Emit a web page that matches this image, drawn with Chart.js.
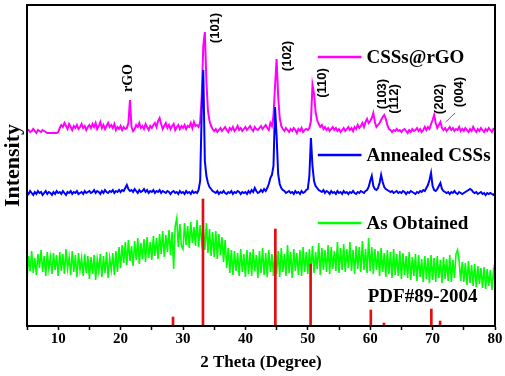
<!DOCTYPE html>
<html>
<head>
<meta charset="utf-8">
<script src="https://cdn.jsdelivr.net/npm/chart.js@4"></script>
<style>
  html, body { margin: 0; padding: 0; background: #fff; }
  #wrap { width: 505px; height: 376px; }
</style>
</head>
<body>
<div id="wrap"><canvas id="xrd"></canvas></div>
<script>
// scan settings (2 theta, degree)
const scanStart = 5;
const scanStep = 0.25;

// CSSs@rGO (a.u.)
const rgoCounts = [
  195,196,194,195,197,195,193,196,195,194,196,195,194,193,193,193,193,193,193,193,
  194,198,201,199,203,200,197,202,199,196,200,198,201,197,199,202,198,200,196,199,
  201,198,202,199,203,197,200,204,198,201,197,200,203,199,201,198,202,196,199,197,
  200,196,199,197,198,203,226,199,195,197,201,199,203,198,200,197,202,199,196,200,
  198,201,203,199,205,208,202,197,200,203,198,201,197,200,202,196,199,201,197,200,
  198,201,197,200,199,203,198,204,200,201,199,204,230,280,294,245,215,205,200,197,
  195,197,194,196,198,195,197,199,196,194,198,196,199,195,197,200,196,198,195,197,
  199,196,198,200,197,195,199,197,196,198,200,197,199,201,198,196,203,200,210,240,
  267,230,208,200,197,195,198,196,194,197,195,198,196,193,197,195,198,194,196,197,
  196,198,205,241,232,214,206,202,199,201,197,199,196,198,195,197,199,196,198,195,
  197,194,196,198,195,197,199,196,198,195,199,197,201,198,200,203,199,204,207,203,
  205,208,213,204,199,201,203,206,209,211,207,201,197,196,194,196,195,197,195,196,
  194,196,197,195,193,196,194,197,195,196,198,195,197,194,196,199,196,199,197,202,
  206,211,203,198,201,204,198,196,198,195,197,199,196,198,195,197,196,199,195,197,
  195,198,196,194,197,195,199,196,194,197,195,198,196,194,197,195,198,196,194,197,196
];

// Annealed CSSs (a.u.)
const annealedCounts = [
  134,132,135,133,131,134,132,135,133,134,131,133,135,132,134,133,131,134,132,135,
  133,134,132,135,133,131,134,133,135,132,134,133,135,132,133,134,132,135,133,134,
  135,133,134,136,133,135,134,132,135,133,136,134,133,135,134,136,133,135,134,136,
  134,136,135,138,141,137,135,136,134,137,135,133,136,134,135,137,134,136,133,135,
  134,136,133,135,134,136,133,135,134,133,135,134,132,134,135,133,134,132,135,133,
  134,132,135,133,134,132,135,133,134,133,136,145,215,256,165,150,143,139,137,135,
  134,133,135,132,134,133,135,133,132,134,133,135,132,134,133,135,134,132,134,133,
  134,132,135,133,136,134,138,135,133,134,136,134,137,135,138,142,148,151,160,219,
  190,152,142,138,136,135,133,134,135,133,134,132,135,133,134,132,135,133,134,136,
  137,150,188,160,145,140,138,136,135,134,136,133,135,134,132,135,133,134,132,135,
  133,134,132,135,133,134,132,134,133,135,133,132,134,133,135,134,133,135,136,139,
  145,150,140,137,136,138,143,151,144,139,137,136,135,134,135,133,134,135,133,134,
  133,135,134,132,134,133,135,134,133,132,134,133,135,134,136,135,138,141,146,153,
  140,136,135,137,140,143,137,135,134,133,134,132,134,133,135,133,132,134,133,132,
  133,134,135,136,137,136,134,133,134,132,133,134,132,133,131,133,132,133,132,131,133
];

// As Obtained (a.u.)
const obtainedCounts = [
  46,70,55,75,53,68,51,72,58,76,54,70,50,74,57,69,52,73,56,71,
  50,74,55,72,52,77,57,69,51,75,54,71,49,73,56,68,50,72,53,70,
  47,69,52,71,46,67,55,72,49,70,53,74,48,68,56,73,51,75,54,79,
  58,81,63,84,61,86,65,80,60,85,66,88,62,83,67,87,64,89,68,84,
  66,90,70,88,67,92,72,95,69,91,74,96,71,94,57,100,108,79,102,80,
  77,103,81,100,78,104,83,99,80,106,79,101,84,98,76,103,73,97,70,94,
  69,95,67,92,71,89,64,86,58,78,53,76,51,75,55,73,50,77,54,72,
  49,76,52,74,50,77,55,71,48,75,53,78,51,73,49,76,54,72,50,77,
  52,75,49,78,54,72,50,81,53,74,48,77,55,73,51,76,50,79,54,74,
  52,77,55,80,53,74,57,83,51,78,56,76,54,81,52,79,57,75,55,84,
  53,78,56,82,54,77,58,84,55,76,52,80,57,79,54,85,56,77,53,88,
  55,79,52,77,56,75,50,78,54,73,49,76,52,74,48,77,51,72,50,75,
  47,73,51,70,48,74,46,69,50,72,45,71,49,67,44,70,47,68,43,71,
  46,68,44,70,48,66,43,69,47,67,45,71,44,66,48,72,76,65,45,64,
  44,63,41,65,43,61,40,62,39,60,42,58,38,59,37,57,40,56,36,55,42
];

// PDF#89-2004 reference lines
const pdfAngles = [28.4, 33.2, 44.8, 50.45, 60.1, 62.2, 69.8, 71.2];
const pdfHeights = [9, 127, 97, 62, 16, 3, 17, 5];

const seriesNames = ["CSSs@rGO", "Annealed CSSs", "As Obtained"];
const seriesColors = ["#ff00ff", "#0000ff", "#00ff00"];
const pdfName = "PDF#89-2004";

// peak labels
const hklLabels = ["(101)", "(102)", "(110)", "(103)", "(112)", "(202)", "(004)"];
const hklAngles = [35.2, 46.7, 52.4, 62.0, 63.9, 71.1, 74.3];
const hklLevels = [298, 270, 243, 232, 227, 227, 234];

const xTicks = [10, 20, 30, 40, 50, 60, 70, 80];

function toPoints(counts) {
  return counts.map((v, i) => ({ x: scanStart + i * scanStep, y: v }));
}

const serif = "'Liberation Serif', 'Times New Roman', serif";
const sans = "'Liberation Sans', Arial, sans-serif";

// frame, legend and peak labels
const decorPlugin = {
  id: "decor",
  afterDatasetsDraw(chart) {
    const { ctx, chartArea, scales } = chart;
    const xs = scales.x, ys = scales.y;
    ctx.save();

    ctx.strokeStyle = "#000";
    ctx.lineWidth = 2;
    ctx.strokeRect(chartArea.left, chartArea.top, chartArea.right - chartArea.left, chartArea.bottom - chartArea.top);

    // hkl labels, rotated
    ctx.fillStyle = "#000";
    ctx.font = "bold 13px " + sans;
    ctx.textAlign = "center";
    ctx.textBaseline = "middle";
    hklLabels.forEach((t, i) => {
      ctx.save();
      ctx.translate(xs.getPixelForValue(hklAngles[i]), ys.getPixelForValue(hklLevels[i]));
      ctx.rotate(-Math.PI / 2);
      ctx.fillText(t, 0, 0);
      ctx.restore();
    });

    // rGO label
    ctx.save();
    ctx.font = "bold 14px " + serif;
    ctx.translate(xs.getPixelForValue(21.2), ys.getPixelForValue(248));
    ctx.rotate(-Math.PI / 2);
    ctx.fillText("rGO", 0, 0);
    ctx.restore();

    // pointer from (004) to its peak
    ctx.strokeStyle = seriesColors[0];
    ctx.lineWidth = 1;
    ctx.beginPath();
    ctx.moveTo(xs.getPixelForValue(73.6), ys.getPixelForValue(213));
    ctx.lineTo(xs.getPixelForValue(72.1), ys.getPixelForValue(204));
    ctx.stroke();

    // legend entries next to each pattern
    const legendLevels = [269, 171, 103];
    ctx.font = "bold 19px " + serif;
    ctx.textAlign = "left";
    seriesNames.forEach((name, i) => {
      const y = ys.getPixelForValue(legendLevels[i]);
      ctx.strokeStyle = seriesColors[i];
      ctx.lineWidth = 2.5;
      ctx.beginPath();
      ctx.moveTo(xs.getPixelForValue(51.6), y);
      ctx.lineTo(xs.getPixelForValue(58.6), y);
      ctx.stroke();
      ctx.fillStyle = "#000";
      ctx.fillText(name, xs.getPixelForValue(59.4), y + 1);
    });
    ctx.fillText(pdfName, xs.getPixelForValue(59.6), ys.getPixelForValue(30) + 1);

    ctx.restore();
  }
};

new Chart(document.getElementById("xrd"), {
  data: {
    datasets: [
      {
        type: "bar",
        label: pdfName,
        data: pdfAngles.map((a, i) => ({ x: a, y: pdfHeights[i] })),
        backgroundColor: "#e01010",
        barThickness: 2
      },
      {
        type: "line",
        label: seriesNames[1],
        data: toPoints(annealedCounts),
        borderColor: seriesColors[1],
        borderWidth: 2,
        pointRadius: 0,
        tension: 0
      },
      {
        type: "line",
        label: seriesNames[0],
        data: toPoints(rgoCounts),
        borderColor: seriesColors[0],
        borderWidth: 2,
        pointRadius: 0,
        tension: 0
      },
      {
        type: "line",
        label: seriesNames[2],
        data: toPoints(obtainedCounts),
        borderColor: seriesColors[2],
        borderWidth: 1.6,
        pointRadius: 0,
        tension: 0
      }
    ]
  },
  options: {
    responsive: true,
    maintainAspectRatio: false,
    animation: false,
    layout: { padding: { top: 5, right: 10, left: 0, bottom: 0 } },
    plugins: { legend: { display: false }, tooltip: { enabled: false } },
    scales: {
      x: {
        type: "linear",
        min: 5,
        max: 80,
        offset: false,
        afterBuildTicks: (s) => { s.ticks = [5, 10, 15, 20, 25, 30, 35, 40, 45, 50, 55, 60, 65, 70, 75, 80].map((v) => ({ value: v })); },
        afterFit: (s) => { s.height = 50; },
        ticks: {
          color: "#000",
          padding: 0,
          maxRotation: 0,
          autoSkip: false,
          font: { family: serif, size: 15, weight: "bold" },
          callback: (v) => (xTicks.includes(v) ? String(v) : "")
        },
        grid: { offset: false, drawOnChartArea: false, drawTicks: true, tickLength: 4, tickColor: "#000", tickWidth: 1.5 },
        border: { display: true, color: "#000", width: 2 },
        title: {
          display: true,
          text: "2 Theta (Degree)",
          color: "#000",
          font: { family: serif, size: 17, weight: "bold" },
          padding: { top: 0, bottom: 3 }
        }
      },
      y: {
        min: 0,
        max: 321,
        afterFit: (s) => { s.width = 27; },
        ticks: { display: false },
        grid: { drawOnChartArea: false, drawTicks: false },
        border: { display: true, color: "#000", width: 2 },
        title: {
          display: true,
          text: "Intensity",
          color: "#000",
          font: { family: serif, size: 22, weight: "bold" },
          padding: { top: 0, bottom: 0 }
        }
      }
    }
  },
  plugins: [decorPlugin]
});
</script>
</body>
</html>
